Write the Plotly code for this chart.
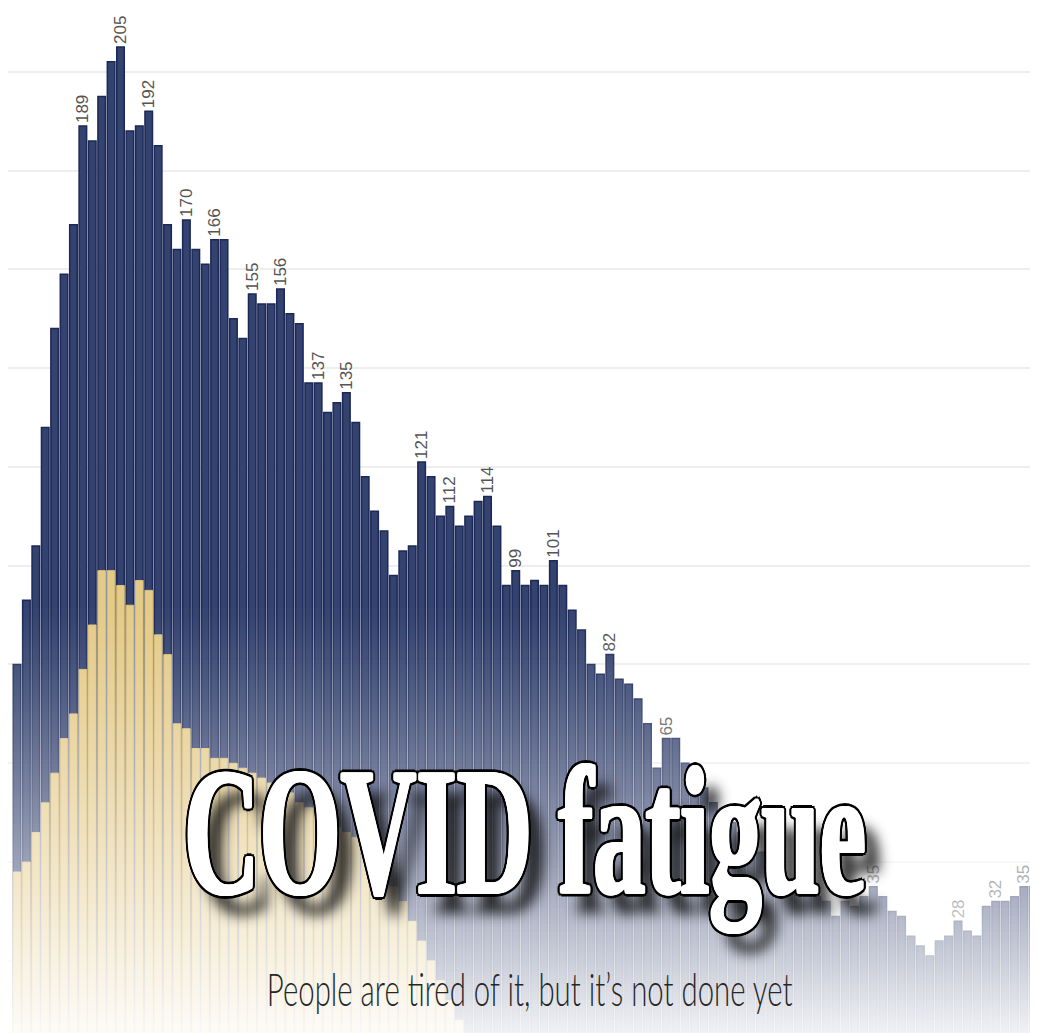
import plotly.graph_objects as go

# ---- data ----
days = list(range(109))

cases = [80, 93, 104, 128, 148, 159, 169, 189, 186, 195,
         202, 205, 188, 189, 192, 185, 169, 164, 170, 164,
         161, 166, 166, 150, 146, 155, 153, 153, 156, 151,
         149, 137, 137, 131, 133, 135, 129, 118, 111, 107,
         98, 103, 104, 121, 118, 110, 112, 108, 110, 113,
         114, 108, 96, 99, 96, 97, 96, 101, 96, 91,
         87, 80, 78, 82, 77, 76, 73, 68, 59, 65,
         65, 60, 57, 55, 52, 50, 48, 46, 44, 42,
         40, 38, 36, 35, 34, 33, 32, 29, 32, 31,
         33, 35, 33, 30, 29, 25, 23, 21, 24, 25,
         28, 26, 25, 31, 32, 32, 33, 35, 35]

second = [38, 40, 46, 52, 58, 65, 70, 79, 88, 99,
          99, 96, 92, 97, 95, 86, 82, 68, 67, 63,
          63, 61, 61, 60, 59, 58, 57, 56, 55, 54,
          52, 51, 50, 48, 47, 46, 45, 44, 42, 39,
          35, 32, 28, 24, 20, 16, 12, 8]

labelled_days = [7, 11, 14, 18, 21, 25, 28, 32, 35, 43, 46, 50, 53, 57, 63, 69, 91, 100, 104, 107]

title_text = "COVID fatigue"
subtitle_text = "People are tired of it, but it\u2019s not done yet"

labels = [str(cases[d]) if d in labelled_days else "" for d in days]

fig = go.Figure()
fig.add_trace(go.Bar(
    x=days, y=cases,
    marker=dict(color="#33426f", line=dict(color="#1c2856", width=1.5)),
    text=labels, textposition="outside", textangle=-90,
    constraintext="none", cliponaxis=False,
    textfont=dict(family="Liberation Sans, Arial", size=17, color="#555555"),
    hoverinfo="skip", showlegend=False,
))
fig.add_trace(go.Bar(
    x=days[:len(second)], y=second,
    marker=dict(color="#e5cb88", line=dict(color="#dcc07a", width=1)),
    hoverinfo="skip", showlegend=False,
))

# the page has an 8px body margin: the figure is sized to the visible area
W, H = 1030, 1025
shapes = []
y0 = 592
step = 4
for py in range(y0, H, step):
    a = 0.93 * ((py + step / 2 - y0) / (H - y0)) ** 1.2
    shapes.append(dict(
        type="rect", xref="paper", yref="paper", layer="above",
        x0=-0.01, x1=1.01, y0=max(0, 1 - (py + step) / H), y1=1 - py / H,
        fillcolor="white", opacity=min(a, 0.95), line=dict(width=0),
    ))

white_in = ["2px 0 0 #fff", "-2px 0 0 #fff", "0 1px 0 #fff", "0 -1px 0 #fff",
            "1.4px 0.7px 0 #fff", "-1.4px 0.7px 0 #fff", "1.4px -0.7px 0 #fff", "-1.4px -0.7px 0 #fff"]
black_out = ["5px 0 0 #000", "-5px 0 0 #000", "0 3px 0 #000", "0 -3px 0 #000",
             "3.6px 2.2px 0 #000", "-3.6px 2.2px 0 #000", "3.6px -2.2px 0 #000", "-3.6px -2.2px 0 #000",
             "4.7px 1.2px 0 #000", "-4.7px 1.2px 0 #000", "4.7px -1.2px 0 #000", "-4.7px -1.2px 0 #000"]
outline = ", ".join(white_in + black_out + ["22px 16px 14px rgba(15,15,15,0.9)"])

fig.update_layout(
    width=W, height=H,
    margin=dict(l=0, r=0, t=0, b=0),
    paper_bgcolor="white", plot_bgcolor="white",
    barmode="overlay", bargap=0.2,
    xaxis=dict(range=[-0.956, 108.5], visible=False, fixedrange=True),
    yaxis=dict(range=[5.4, 212.9], tickvals=list(range(20, 220, 20)),
               showticklabels=False, showgrid=True, gridcolor="#eeeeee",
               gridwidth=2, zeroline=False, showline=False, ticks=""),
    shapes=shapes,
    annotations=[
        dict(text=title_text, xref="paper", yref="paper", x=0.502, y=0.1965,
             xanchor="center", yanchor="middle", showarrow=False,
             font=dict(family="Liberation Serif, Times New Roman, serif", size=182,
                       color="white", weight="bold", shadow=outline)),
        dict(text=subtitle_text, xref="paper", yref="paper", x=0.507, y=0.0435,
             xanchor="center", yanchor="middle", showarrow=False,
             font=dict(family="Lato, Open Sans, sans-serif", size=46, color="#262626",
                       weight=300)),
    ],
)

post = """
(function(){
  var gd = document.getElementById('{plot_id}');
  var targets = [['COVID', 682], ['People', 526]];
  function squeeze(){
    var texts = gd.querySelectorAll('text.annotation-text');
    texts.forEach(function(t){
      var s = t.textContent || '';
      targets.forEach(function(p){
        if (s.indexOf(p[0]) === 0){
          t.style.transform = 'none';
          var w = t.getBBox().width;
          if (w > 0){
            t.style.transformBox = 'fill-box';
            t.style.transformOrigin = 'center';
            t.style.transform = 'scaleX(' + (p[1] / w) + ')';
          }
        }
      });
    });
  }
  squeeze();
  if (gd.on) { gd.on('plotly_afterplot', squeeze); }
  setTimeout(squeeze, 200);
})();
"""

fig.write_html("out.html", post_script=post)
